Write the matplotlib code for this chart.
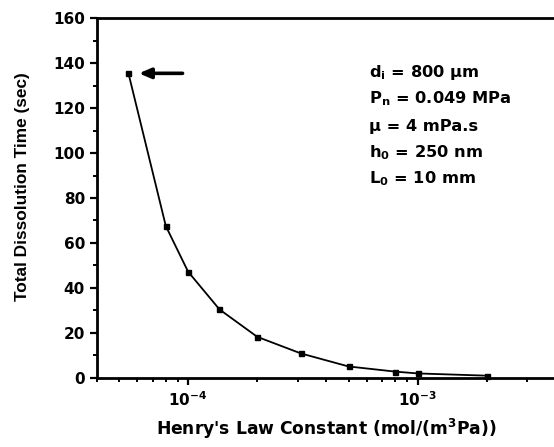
import matplotlib
matplotlib.use("Agg")
import matplotlib.pyplot as plt
from matplotlib.ticker import LogLocator, LogFormatterSciNotation, MultipleLocator, NullFormatter

plt.rcParams['font.family'] = ['DejaVu Sans']
plt.rcParams['font.weight'] = 'bold'
plt.rcParams['mathtext.fontset'] = 'custom'
plt.rcParams['mathtext.rm'] = 'DejaVu Sans:bold'
plt.rcParams['mathtext.bf'] = 'DejaVu Sans:bold'
plt.rcParams['mathtext.it'] = 'DejaVu Sans:bold'
plt.rcParams['mathtext.sf'] = 'DejaVu Sans:bold'
plt.rcParams['mathtext.default'] = 'bf'

# Data
henry = [5.5e-5, 8.0e-5, 1.0e-4, 1.37e-4, 2.0e-4, 3.1e-4, 5.0e-4, 8.0e-4, 1.0e-3, 2.0e-3]
time_s = [135.5, 67.5, 47.2, 30.4, 18.2, 10.8, 5.0, 2.7, 1.9, 0.9]
params = [r"$\mathbf{d_i}$ = 800 μm",
          r"$\mathbf{P_n}$ = 0.049 MPa",
          "μ = 4 mPa.s",
          r"$\mathbf{h_0}$ = 250 nm",
          r"$\mathbf{L_0}$ = 10 mm"]
xlabel = "Henry's Law Constant (mol/(m$^3$Pa))"
ylabel = "Total Dissolution Time (sec)"

W, H = 554, 447
fig = plt.figure(figsize=(W / 100, H / 100), dpi=100)
ax = fig.add_axes([96.7 / W, (H - 377.7) / H, (556 - 96.7) / W, (377.7 - 18.3) / H])

ax.plot(henry, time_s, color='black', lw=1.3, marker='s', ms=3.6,
        markerfacecolor='black', markeredgecolor='black', clip_on=False)

ax.set_xscale('log')
ax.set_xlim(4e-5, 4e-3)
ax.set_ylim(0, 160)

ax.xaxis.set_major_locator(LogLocator(base=10))
ax.xaxis.set_minor_locator(LogLocator(base=10, subs=range(2, 10)))
ax.xaxis.set_major_formatter(LogFormatterSciNotation())
ax.xaxis.set_minor_formatter(NullFormatter())
ax.yaxis.set_major_locator(MultipleLocator(20))
ax.yaxis.set_minor_locator(MultipleLocator(10))

for s in ['left', 'bottom', 'top']:
    ax.spines[s].set_linewidth(2.0)
ax.spines['right'].set_visible(False)

ax.tick_params(axis='both', which='major', direction='out', length=4.8, width=1.6,
               labelsize=11, pad=3.6)
ax.tick_params(axis='both', which='minor', direction='out', length=2.6, width=1.4)
ax.tick_params(axis='x', which='major', pad=4.5)

ax.set_xlabel(xlabel, fontsize=12.3, fontweight='bold', va='baseline')
ax.xaxis.set_label_coords(0.5003, -0.1594)
ax.set_ylabel(ylabel, fontsize=12.4, fontweight='bold', family='Liberation Sans',
              va='center', ha='center')
ax.yaxis.set_label_coords(-0.1615, 0.532)

# arrow pointing at the first point
ax.annotate('', xy=(henry[0] * 1.11, time_s[0]), xytext=(henry[0] * 1.72, time_s[0]),
            arrowprops=dict(arrowstyle='-|>,head_length=0.7,head_width=0.3',
                            lw=2.6, color='black', shrinkA=0, shrinkB=0))

baselines = [76.7, 103.3, 130.5, 157.5, 183.3]
for txt, yb in zip(params, baselines):
    fig.text(369 / W, (H - yb) / H, txt, fontsize=11.7, fontweight='bold',
             va='baseline', ha='left')

fig.savefig('out.png', dpi=100)
